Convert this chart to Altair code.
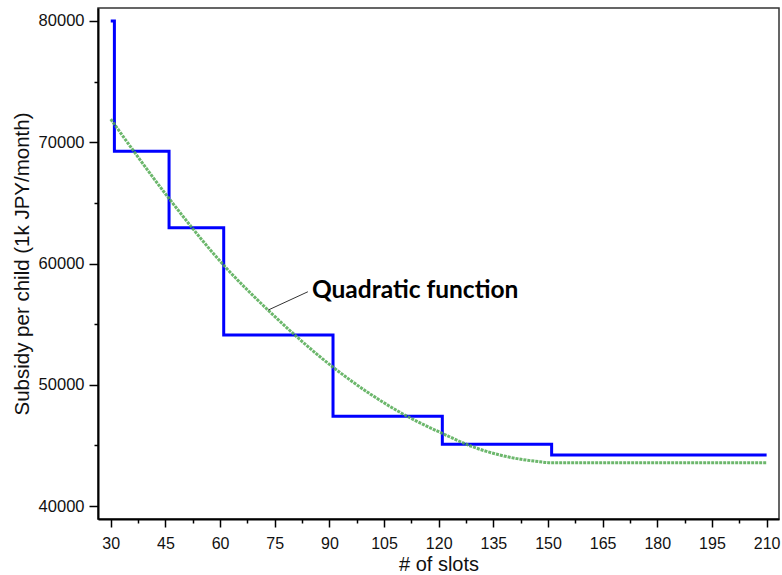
import altair as alt
import pandas as pd

# Stepped subsidy schedule: each value applies from its slot count onward
step_slots = [30, 31, 46, 61, 91, 121, 151, 210]
step_subsidy = [80000, 69250, 62950, 54100, 47400, 45100, 44200, 44200]

# Quadratic approximation of the schedule, held flat past its minimum
quad_slots = [30, 46, 61, 73.2, 91, 111.6, 121, 129.4, 138.6, 147.8, 151, 210]
quad_subsidy = [71900, 65360, 59860, 56150, 51450, 47360, 45990, 44880, 44080, 43650, 43560, 43560]

# Tick positions
x_major = [30, 45, 60, 75, 90, 105, 120, 135, 150, 165, 180, 195, 210]
x_minor = [37.5, 52.5, 67.5, 82.5, 97.5, 112.5, 127.5, 142.5, 157.5, 172.5, 187.5, 202.5]
y_major = [40000, 50000, 60000, 70000, 80000]
y_minor = [45000, 55000, 65000, 75000]

# Annotation
label_text = "Quadratic function"

FONT = "Liberation Sans"
INK = "#111111"

step_df = pd.DataFrame({"slots": step_slots, "subsidy": step_subsidy})
quad_df = pd.DataFrame({"slots": quad_slots, "subsidy": quad_subsidy})
leader_df = pd.DataFrame({"x": [73.2], "y": [56160], "x2": [84.1], "y2": [57670]})
label_df = pd.DataFrame({"x": [85.2], "y": [57130], "text": [label_text]})

xscale = alt.Scale(domain=[26.5, 213.4], nice=False, zero=False)
yscale = alt.Scale(domain=[38930, 81070], nice=False, zero=False)

x_axis_major = alt.Axis(
    orient="bottom", values=x_major, format="d", grid=False,
    tickSize=8, tickWidth=1.5, tickColor="black",
    domainColor="black", domainWidth=2,
    labelFont=FONT, labelFontSize=16, labelColor=INK, labelPadding=8,
    labelFlush=False, labelOverlap=False,
    title="# of slots", titleFont=FONT, titleFontSize=20,
    titleFontWeight="normal", titleColor=INK, titlePadding=3,
)
x_axis_minor = alt.Axis(
    orient="bottom", values=x_minor, grid=False, labels=False, domain=False,
    tickSize=4, tickWidth=1.5, tickColor="black", title=None,
)
y_axis_major = alt.Axis(
    orient="left", values=y_major, format="d", grid=False,
    tickSize=9, tickWidth=1.5, tickColor="black",
    domainColor="black", domainWidth=2,
    labelFont=FONT, labelFontSize=16.5, labelColor=INK, labelPadding=5,
    labelFlush=False, labelOverlap=False,
    title="Subsidy per child (1k JPY/month)", titleFont=FONT, titleFontSize=20.5,
    titleFontWeight="normal", titleColor=INK, titlePadding=6,
)
y_axis_minor = alt.Axis(
    orient="left", values=y_minor, grid=False, labels=False, domain=False,
    tickSize=4, tickWidth=1.5, tickColor="black", title=None,
)

steps = alt.Chart(step_df).mark_line(
    interpolate="step-after", color="#0000ff", strokeWidth=3, clip=True
).encode(
    x=alt.X("slots:Q", scale=xscale, axis=x_axis_major),
    y=alt.Y("subsidy:Q", scale=yscale, axis=y_axis_major),
)

quad = alt.Chart(quad_df).mark_line(
    interpolate="monotone", color="#52aa52", strokeWidth=3,
    strokeDash=[3, 1], opacity=0.85, clip=True
).encode(
    x=alt.X("slots:Q", scale=xscale, axis=x_axis_minor),
    y=alt.Y("subsidy:Q", scale=yscale, axis=y_axis_minor),
)

leader = alt.Chart(leader_df).mark_rule(color="#333333", strokeWidth=1).encode(
    x=alt.X("x:Q", scale=xscale, axis=None),
    y=alt.Y("y:Q", scale=yscale, axis=None),
    x2="x2:Q",
    y2="y2:Q",
)

label = alt.Chart(label_df).mark_text(
    font="Lato", fontWeight="bold", fontSize=24.5, align="left",
    baseline="alphabetic", color="black"
).encode(
    x=alt.X("x:Q", scale=xscale, axis=None),
    y=alt.Y("y:Q", scale=yscale, axis=None),
    text="text:N",
)

chart = alt.layer(steps, quad, leader, label).resolve_axis(
    x="independent", y="independent"
).properties(
    width=681,
    height=511,
    autosize="none",
    padding={"left": 98, "top": 8, "right": 3, "bottom": 56},
    background="white",
).configure_view(stroke="#333333", strokeWidth=1.5)

chart.save("out.html", embed_options={"renderer": "svg", "actions": False})
